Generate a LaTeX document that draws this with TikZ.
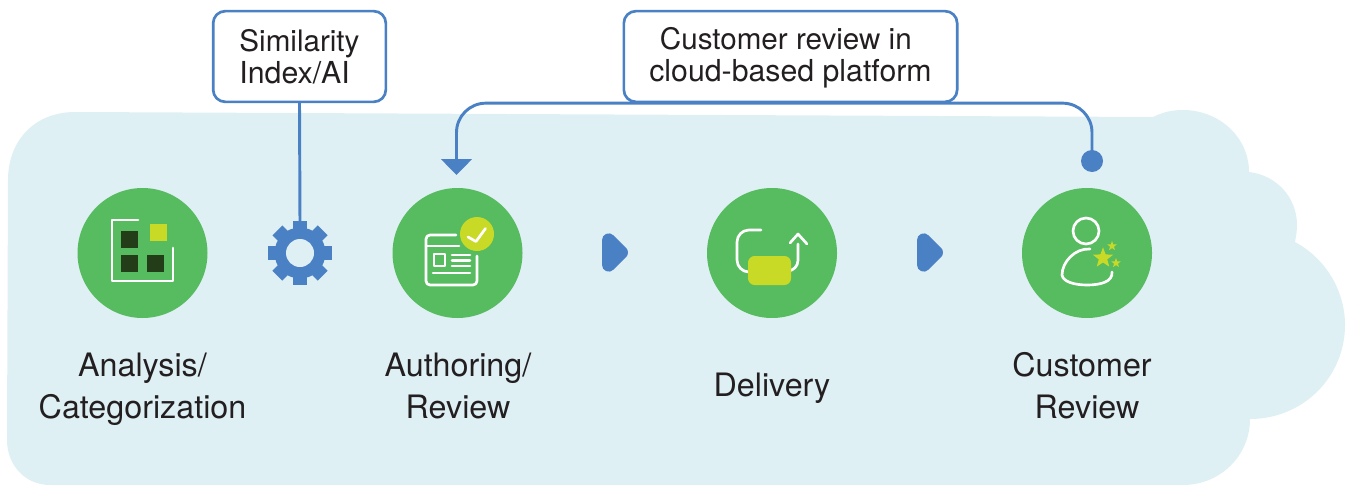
\documentclass[tikz,border=0pt]{standalone}
\usepackage{fontspec}
\setmainfont{TeX Gyre Heros}
\usetikzlibrary{arrows.meta,shapes.geometric}
\definecolor{cloudc}{HTML}{DFF0F5}
\definecolor{greenc}{HTML}{57BB60}
\definecolor{limec}{HTML}{C9DA26}
\definecolor{darkc}{HTML}{233D18}
\definecolor{bluec}{HTML}{4A80C4}
\definecolor{textc}{HTML}{231F20}
\newcommand{\narrowline}{\fontsize{22.2}{24}\selectfont}
\tikzset{
  stage/.style={circle,fill=greenc,minimum size=97.5pt,inner sep=0pt},
  callout/.style={draw=bluec,line width=2pt,fill=white,rounded corners=9pt,inner sep=0pt,text=textc,font=\fontsize{22.7}{24}\selectfont},
  caption/.style={text=textc,font=\fontsize{24.2}{31.5}\selectfont,align=center,inner sep=0pt},
  link/.style={draw=bluec,line width=2.2pt},
  icon/.style={draw=white,line width=2pt,line cap=round,line join=round},
  flow/.style={fill=bluec,draw=bluec,line width=10pt,line join=round},
}
\begin{document}
\begin{tikzpicture}[x=0.75pt,y=-0.75pt]
\useasboundingbox (0,0) rectangle (1351,485);
% cloud background
\fill[cloudc] (75,112) -- (1153,117)
  .. controls (1163,112) and (1172,110) .. (1183,110)
  .. controls (1219,110) and (1249,137) .. (1249,172)
  .. controls (1276,175) and (1297,197) .. (1297,225)
  .. controls (1297,231) and (1296,237) .. (1295,242)
  .. controls (1325,258) and (1345,290) .. (1345,325)
  .. controls (1345,377) and (1303,419) .. (1250,419)
  .. controls (1250,456) and (1220,485) .. (1183,485)
  -- (50,485)
  .. controls (25,485) and (7,465) .. (7,440)
  -- (8,180)
  .. controls (8,140) and (35,112) .. (75,112) -- cycle;
% stages
\node[stage] (s1) at (142.5,253) {};
\node[stage] (s2) at (457.5,253) {};
\node[stage] (s3) at (772,253) {};
\node[stage] (s4) at (1087,253) {};
% icon 1
\draw[icon] (138,220) -- (112,220) -- (112,281) -- (173,281) -- (173,248);
\fill[darkc] (121,231) rectangle (138,248);
\fill[darkc] (121,255) rectangle (138,272);
\fill[darkc] (147,255) rectangle (164,272);
\fill[limec] (150,224) rectangle (167,241);
% icon 2
\draw[icon,rounded corners=3pt] (456,235) -- (426,235) -- (426,285) -- (477,285) -- (477,256);
\draw[icon] (426,246) -- (459,246);
\draw[icon] (434,254) rectangle (445,266);
\draw[icon] (452,255) -- (470,255) (452,260.5) -- (470,260.5) (452,266) -- (470,266) (433,273) -- (470,273);
\fill[limec] (477,234) circle[radius=17];
\draw[icon] (468,237) -- (476,241.5) -- (485.5,228.5);
% icon 3
\draw[icon,rounded corners=9pt] (761,230) -- (737,230) -- (737,272) -- (752,272);
\draw[icon,rounded corners=8pt] (798,244) -- (798,271) -- (788,271);
\draw[icon] (790,243) -- (798,234) -- (807,244);
\fill[limec,rounded corners=5pt] (748,256) rectangle (791,285);
% icon 4
\draw[icon] (1086,231) circle[radius=13];
\draw[icon] (1090,249) .. controls (1075,248) and (1062,262) .. (1062,275)
  .. controls (1063,282) and (1075,285) .. (1087,285)
  .. controls (1100,285) and (1113,282) .. (1112,272);
\node[star,star points=5,star point ratio=2.4,fill=limec,inner sep=0pt,minimum size=16pt] (st1) at (1103,258) {};
\node[star,star points=5,star point ratio=2.4,fill=limec,inner sep=0pt,minimum size=7.5pt] (st2) at (1112,246) {};
\node[star,star points=5,star point ratio=2.4,fill=limec,inner sep=0pt,minimum size=7.5pt] (st3) at (1116,263) {};
% gear
\node[circle,minimum size=48pt,inner sep=0pt] (gear) at (300,253) {};
\begin{scope}[shift={(gear.center)}]
  \foreach \a in {0,45,...,315}{
    \fill[bluec,rotate=\a] (-7,-32) rectangle (7,-15);
  }
  \fill[bluec] (0,0) circle[radius=25.5];
\end{scope}
\path[fill=cloudc] (gear.center) circle[radius=14];
% flow markers
\path[flow] (608.7,240) -- (621.3,252.5) -- (608.7,265) -- cycle;
\path[flow] (923.7,240) -- (936.3,252.5) -- (923.7,265) -- cycle;
% connectors
\coordinate (tip) at (456.5,175);
\node[circle,fill=bluec,minimum size=16.5pt,inner sep=0pt] (dot) at (1092,161) {};
\node[callout,minimum width=129.5pt,minimum height=68pt,align=left] (box1) at (299.5,56.5) {\narrowline Similarity\\Index/AI};
\node[callout,minimum width=250pt,minimum height=68pt,align=center] (box2) at (790.5,56.5) {\narrowline\rule{0pt}{18.7pt}Customer review in\hspace*{7pt}\\cloud-based platform};
\draw[link] (box1.south) -- (gear.center |- 0,225);
\draw[link,rounded corners=22pt,-{Triangle[width=23pt,length=12pt,sep=0pt]}] (dot.center) -- (dot.center |- box2.south) -- (tip |- box2.south) -- (tip);
% captions
\node[caption] (c1) at (142.5,389) {Analysis/\\Categorization};
\node[caption] (c2) at (458,386) {Authoring/\\Review};
\node[caption] (c3) at (772,388) {Delivery};
\node[caption] (c4) at (1087,386) {Customer\hspace*{7.5pt}\\Review};
\end{tikzpicture}
\end{document}
